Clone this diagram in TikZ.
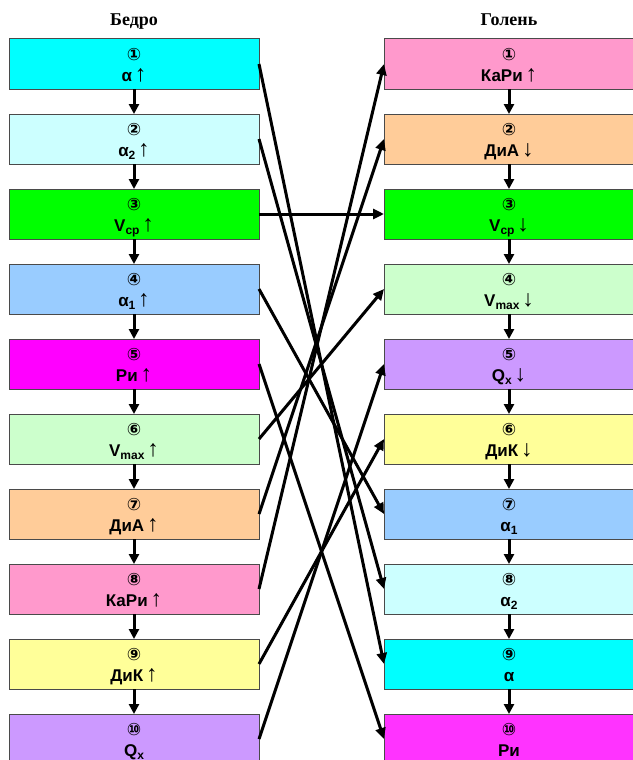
\documentclass[tikz,border=0pt]{standalone}
\usepackage{fontspec}
\setmainfont{Liberation Sans}
\newfontfamily\circfont{DejaVu Sans}
\newfontfamily\titlefont{Liberation Serif}
\usetikzlibrary{arrows.meta}

\definecolor{boxline}{HTML}{4A4A4A}
\definecolor{cCyan}{HTML}{00FFFF}
\definecolor{cPaleCyan}{HTML}{CCFFFF}
\definecolor{cGreen}{HTML}{00FF00}
\definecolor{cBlue}{HTML}{99CCFF}
\definecolor{cMagenta}{HTML}{FF00FF}
\definecolor{cMagentaLight}{HTML}{FF33FF}
\definecolor{cPaleGreen}{HTML}{CCFFCC}
\definecolor{cPeach}{HTML}{FFCC99}
\definecolor{cPink}{HTML}{FF99CC}
\definecolor{cYellow}{HTML}{FFFF99}
\definecolor{cLilac}{HTML}{CC99FF}

% subscript and direction marks used in the labels
\newcommand\lowidx[1]{\raisebox{-0.35ex}{\fontsize{12}{12}\selectfont #1}}
\newcommand\arrup{\,{\mdseries\fontsize{23}{23}\selectfont ↑}}
\newcommand\arrdn{\,{\mdseries\fontsize{23}{23}\selectfont ↓}}

\tikzset{
  box/.style={draw=boxline, line width=1pt, minimum width=250pt,
    minimum height=50pt, inner sep=0pt, outer sep=0pt},
  numtext/.style={anchor=base, inner sep=0pt,
    font=\circfont\bfseries\fontsize{17}{17}\selectfont},
  labtext/.style={anchor=base, inner sep=0pt,
    font=\bfseries\fontsize{17}{17}\selectfont},
  titletext/.style={anchor=base, inner sep=0pt,
    font=\titlefont\bfseries\fontsize{18}{18}\selectfont},
  flow/.style={line width=3pt, -{Triangle[length=10pt,width=10pt]}},
  link/.style={line width=3pt, -{Triangle[length=11pt,width=10pt]}}
}

% one coloured cell: name, x, y of centre, fill, number, label
\newcommand\cellbox[6]{%
  \node[box, fill=#4] (#1) at (#2,#3) {};
  \node[numtext] (#1-num) at (#2,#3-4) {#5};
  \node[labtext] (#1-lab) at (#2,#3+17.5) {#6};
}

\begin{document}
\begin{tikzpicture}[x=1pt, y=-1pt]
\useasboundingbox (0,0) rectangle (632,760);

\node[titletext] (tl) at (134,26) {Бедро};
\node[titletext] (tr) at (509,26) {Голень};

% thigh column
\cellbox{L1}{134}{64}{cCyan}{①}{α\arrup}
\cellbox{L2}{134}{139}{cPaleCyan}{②}{α\lowidx{2}\arrup}
\cellbox{L3}{134}{214}{cGreen}{③}{V\lowidx{ср}\arrup}
\cellbox{L4}{134}{289}{cBlue}{④}{α\lowidx{1}\arrup}
\cellbox{L5}{134}{364}{cMagenta}{⑤}{Ри\arrup}
\cellbox{L6}{134}{439}{cPaleGreen}{⑥}{V\lowidx{max}\arrup}
\cellbox{L7}{134}{514}{cPeach}{⑦}{ДиА\arrup}
\cellbox{L8}{134}{589}{cPink}{⑧}{КаРи\arrup}
\cellbox{L9}{134}{664}{cYellow}{⑨}{ДиК\arrup}
\cellbox{L10}{134}{739}{cLilac}{⑩}{Q\lowidx{x}}

% shin column
\cellbox{R1}{509}{64}{cPink}{①}{КаРи\arrup}
\cellbox{R2}{509}{139}{cPeach}{②}{ДиА\arrdn}
\cellbox{R3}{509}{214}{cGreen}{③}{V\lowidx{ср}\arrdn}
\cellbox{R4}{509}{289}{cPaleGreen}{④}{V\lowidx{max}\arrdn}
\cellbox{R5}{509}{364}{cLilac}{⑤}{Q\lowidx{x}\arrdn}
\cellbox{R6}{509}{439}{cYellow}{⑥}{ДиК\arrdn}
\cellbox{R7}{509}{514}{cBlue}{⑦}{α\lowidx{1}}
\cellbox{R8}{509}{589}{cPaleCyan}{⑧}{α\lowidx{2}}
\cellbox{R9}{509}{664}{cCyan}{⑨}{α}
\cellbox{R10}{509}{739}{cMagentaLight}{⑩}{Ри}

% order within each column
\foreach \a/\b in {1/2,2/3,3/4,4/5,5/6,6/7,7/8,8/9,9/10}{
  \draw[flow] (L\a.south) -- (L\b.north);
  \draw[flow] (R\a.south) -- (R\b.north);
}

% correspondence between the columns
\foreach \a/\b in {1/9,2/8,3/3,4/7,5/10,6/4,7/2,8/1,9/6,10/5}{
  \draw[link] (L\a.east) -- (R\b.west);
}
\end{tikzpicture}
\end{document}
